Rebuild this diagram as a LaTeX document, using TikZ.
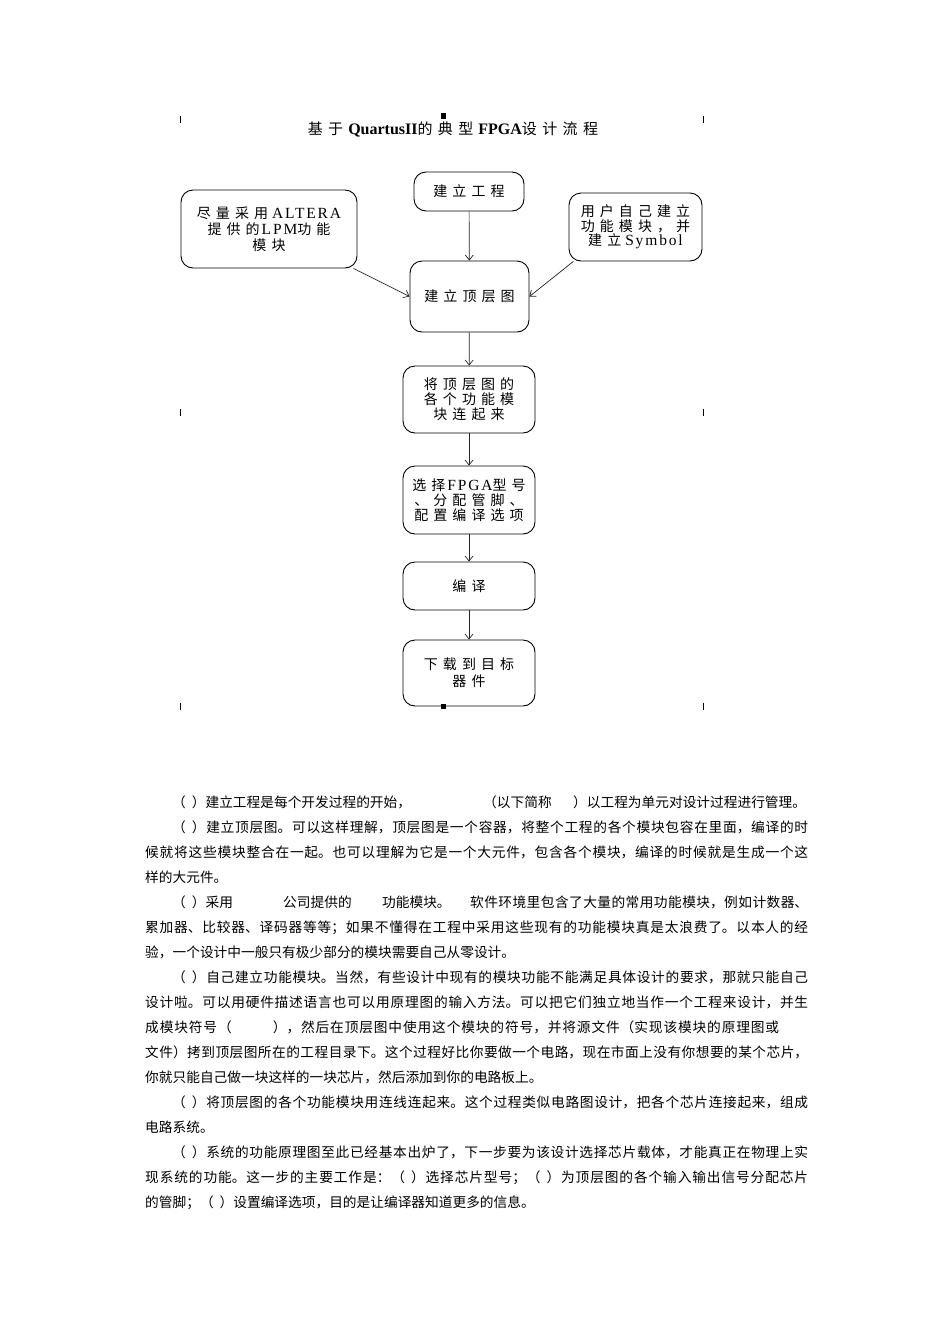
\documentclass[tikz,border=0pt]{standalone}
\usepackage{fontspec}
\setmainfont{Liberation Serif}
\newfontfamily\cjk{Noto Sans CJK SC}
\newfontfamily\cjksp[LetterSpace=36]{Noto Sans CJK SC}
\newfontfamily\latsp[LetterSpace=12]{Liberation Serif}
\usetikzlibrary{arrows.meta}
\newcommand\bodyfont{\cjk\fontsize{13.7}{16}\selectfont\XeTeXlinebreaklocale "zh"\XeTeXlinebreakskip=0pt plus 12pt\relax}
\newcommand\jline[2]{\parbox[b]{#1}{\parfillskip=0pt #2}}
\newcommand\pp{（\hspace{6pt}）}
\newcommand\bc[1]{{\cjksp\fontsize{14}{15}\selectfont #1}}
\newcommand\tc[1]{{\cjksp\fontsize{15}{16}\selectfont #1}}
\newcommand\tl[1]{{\fontsize{16}{18}\selectfont\bfseries #1}}
\tikzset{
  box/.style={draw=black, line width=0.9pt, rounded corners=12pt, align=center,
    inner sep=2pt, text=black, font=\latsp\fontsize{15.5}{15}\selectfont},
  arr/.style={-{Straight Barb[length=5pt,width=8pt]}, line width=0.7pt, draw=black!85},
  body/.style={anchor=base west, inner sep=0pt, font=\bodyfont, text=black},
  fmark/.style={fill=black}
}
\begin{document}
\begin{tikzpicture}[x=1pt,y=-1pt]
\useasboundingbox (0,0) rectangle (950,1344);
\fill[white] (0,0) rectangle (950,1344);
% frame marks
\fill[fmark] (179.5,116) rectangle (181,123);
\fill[fmark] (702.5,116) rectangle (704,123);
\fill[fmark] (441,113) rectangle (446,119);
\fill[fmark] (179.5,409) rectangle (181,416);
\fill[fmark] (702.5,409) rectangle (704,416);
\fill[fmark] (179.5,703) rectangle (181,710);
\fill[fmark] (702.5,703) rectangle (704,710);
\fill[fmark] (441,704) rectangle (446,709);
% title
\node (title) at (453,129) {\tc{基于}\hspace{5pt}\tl{QuartusII}\tc{的典型}\hspace{5pt}\tl{FPGA}\tc{设计流程}};
% boxes
\node[box, minimum width=110, minimum height=39] (proj) at (469,191.5) {\bc{建立工程}};
\node[box, minimum width=176, minimum height=78, font=\latsp\fontsize{15.5}{16}\selectfont] (L) at (269,229) {\bc{尽量采用}\hspace{4pt}ALTERA\\\bc{提供的}\hspace{2pt}LPM\bc{功能}\\\bc{模块}};
\node[box, minimum width=133, minimum height=68, font=\latsp\fontsize{15.5}{14.5}\selectfont] (R) at (635.5,227) {\bc{用户自己建立}\\\bc{功能模块，并}\\\bc{建立}\hspace{4pt}Symbol};
\node[box, minimum width=119, minimum height=71] (top) at (469.5,296.5) {\bc{建立顶层图}};
\node[box, minimum width=132, minimum height=67] (conn) at (469,399.5) {\bc{将顶层图的}\\\bc{各个功能模}\\\bc{块连起来}};
\node[box, minimum width=132, minimum height=68] (sel) at (469,500) {\bc{选择}\hspace{2pt}FPGA\bc{型号}\\\bc{、分配管脚、}\\\bc{配置编译选项}};
\node[box, minimum width=132, minimum height=48] (comp) at (469,586) {\bc{编译}};
\node[box, minimum width=132, minimum height=66, font=\latsp\fontsize{15.5}{17}\selectfont] (dl) at (469,673) {\bc{下载到目标}\\\bc{器件}};
% connectors
\draw[arr] (proj) -- (top);
\draw[arr] (L.-25) -- (top.west);
\draw[arr] (R.209) -- (top.east);
\draw[arr] (top) -- (conn);
\draw[arr] (conn) -- (sel);
\draw[arr] (sel) -- (comp);
\draw[arr] (comp) -- (dl);
% body text
\node[body] (l1) at (172,807) {\makebox[311pt][l]{\pp 建立工程是每个开发过程的开始，}\makebox[90pt][l]{（以下简称}）以工程为单元对设计过程进行管理。};
\node[body] (l2) at (172,832) {\jline{636pt}{\pp 建立顶层图。可以这样理解，顶层图是一个容器，将整个工程的各个模块包容在里面，编译的时}};
\node[body] (l3) at (145,857) {\jline{663pt}{候就将这些模块整合在一起。也可以理解为它是一个大元件，包含各个模块，编译的时候就是生成一个这}};
\node[body] (l4) at (145,882) {样的大元件。};
\node[body] (l5) at (172,907) {\makebox[111pt][l]{\pp 采用}\makebox[99pt][l]{公司提供的}\makebox[88pt][l]{功能模块。}\jline{338pt}{软件环境里包含了大量的常用功能模块，例如计数器、}};
\node[body] (l6) at (145,932) {\jline{663pt}{累加器、比较器、译码器等等；如果不懂得在工程中采用这些现有的功能模块真是太浪费了。以本人的经}};
\node[body] (l7) at (145,957) {验，一个设计中一般只有极少部分的模块需要自己从零设计。};
\node[body] (l8) at (172,982) {\jline{636pt}{\pp 自己建立功能模块。当然，有些设计中现有的模块功能不能满足具体设计的要求，那就只能自己}};
\node[body] (l9) at (145,1007) {\jline{663pt}{设计啦。可以用硬件描述语言也可以用原理图的输入方法。可以把它们独立地当作一个工程来设计，并生}};
\node[body] (l10) at (145,1032) {\jline{634pt}{成模块符号（　　　），然后在顶层图中使用这个模块的符号，并将源文件（实现该模块的原理图或}};
\node[body] (l11) at (145,1057) {\jline{663pt}{文件）拷到顶层图所在的工程目录下。这个过程好比你要做一个电路，现在市面上没有你想要的某个芯片，}};
\node[body] (l12) at (145,1082) {你就只能自己做一块这样的一块芯片，然后添加到你的电路板上。};
\node[body] (l13) at (172,1107) {\jline{636pt}{\pp 将顶层图的各个功能模块用连线连起来。这个过程类似电路图设计，把各个芯片连接起来，组成}};
\node[body] (l14) at (145,1132) {电路系统。};
\node[body] (l15) at (172,1157) {\jline{636pt}{\pp 系统的功能原理图至此已经基本出炉了，下一步要为该设计选择芯片载体，才能真正在物理上实}};
\node[body] (l16) at (145,1182) {\jline{663pt}{现系统的功能。这一步的主要工作是：\pp 选择芯片型号；\pp 为顶层图的各个输入输出信号分配芯片}};
\node[body] (l17) at (145,1207) {的管脚；\pp 设置编译选项，目的是让编译器知道更多的信息。};
\end{tikzpicture}
\end{document}
